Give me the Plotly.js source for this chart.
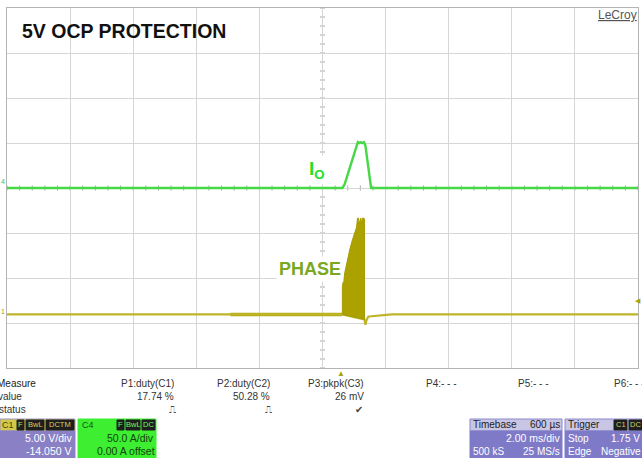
<!DOCTYPE html>
<html><head><meta charset="utf-8">
<script src="https://cdn.plot.ly/plotly-3.0.1.min.js"></script>
<style>html,body{margin:0;padding:0;background:#fff;}#chart{width:642px;height:458px;}</style>
</head><body><div id="chart"></div>
<script>
// ---------- DATA (time in ms, 2 ms/div, trigger delay 600 µs) ----------
// C4 : output current Io (50 A/div, 0 A offset)
const ioTime = [-10, 0.50, 0.63, 0.70, 0.78, 0.86, 0.94, 1.02, 1.08, 1.12, 1.17, 1.21, 1.26, 1.31, 1.36, 1.42, 1.48, 1.54, 10];
const ioAmps = [0, 0, 0, 4, 13, 23, 33, 42, 49, 51, 50, 51, 50, 51, 47, 30, 12, 0, 0];
// C1 : PHASE node (5 V/div, -14.050 V offset) – baseline trace
const phaseTime = [-10, 0.63, 1.33, 1.36, 1.40, 1.45, 1.55, 1.80, 2.20, 10];
const phaseVolts = [0, 0, -0.55, -1.15, -0.6, -0.25, -0.2, -0.1, 0, 0];
// C1 : low-level switching ripple before the burst
const rippleTime = [-2.92, 0.63];
const rippleVolts = [0, 0];
// C1 : switching burst envelope (upper edge then lower edge)
const burstTime = [0.63, 0.63, 0.71, 0.79, 0.87, 0.95, 1.02, 1.08, 1.11, 1.14, 1.16, 1.19, 1.21, 1.24, 1.26, 1.29, 1.31, 1.33, 1.33, 0.63];
const burstVolts = [0, 3.1, 4.7, 6.1, 7.3, 8.3, 9.1, 9.7, 10.7, 10.7, 10.0, 10.7, 10.7, 10.0, 10.7, 10.7, 10.7, 10.6, -0.55, 0];
// measurement table
const measureNames = ["P1:duty(C1)", "P2:duty(C2)", "P3:pkpk(C3)", "P4:- - -", "P5:- - -", "P6:- - -"];
const measureValues = ["17.74 %", "50.28 %", "26 mV", "", "", ""];
const measureStatus = ["\u238D", "\u238D", "\u2714", "", "", ""];
// channel / timebase readouts
const c1Scale = "5.00 V/div", c1Offset = "-14.050 V";
const c4Scale = "50.0 A/div", c4Offset = "0.00 A offset";
const tbDelay = "600 \u00B5s", tbScale = "2.00 ms/div", tbSamples = "500 kS", tbRate = "25 MS/s";
const trigMode = "Stop", trigLevel = "1.75 V", trigType = "Edge", trigSlope = "Negative";

// ---------- GEOMETRY ----------
const W = 642, H = 458, L = 7, R = 4, T = 8, B = 90;
const PW = W - L - R, PH = H - T - B;
const px = x => (x - L) / PW;
const py = y => (H - B - y) / PH;
const FONT = "Liberation Sans, Arial, sans-serif";
const OLIVE = "#aba200", GREEN = "#46d846";

const traces = [
  {x: rippleTime, y: rippleVolts, yaxis: "y2", mode: "lines", line: {color: "#b3aa10", width: 3.6}, hoverinfo: "skip"},
  {x: phaseTime, y: phaseVolts, yaxis: "y2", mode: "lines", line: {color: "#bdb42a", width: 2.2}, hoverinfo: "skip"},
  {x: burstTime, y: burstVolts, yaxis: "y2", mode: "lines", fill: "toself", fillcolor: OLIVE, line: {color: "#a59c00", width: 1}, hoverinfo: "skip"},
  {x: ioTime, y: ioAmps, yaxis: "y", mode: "lines", line: {color: GREEN, width: 2.4}, hoverinfo: "skip"}
];

const shapes = [];
// minor ticks along the centre cross
for (let k = -20; k <= 20; k++) {
  shapes.push({type: "line", xref: "x", yref: "y", xsizemode: "pixel", xanchor: 0, x0: -2.5, x1: 2.5, y0: k * 10, y1: k * 10, line: {color: "#a8a8a8", width: 1}, layer: "below"});
}
for (let k = -25; k <= 25; k++) {
  shapes.push({type: "line", xref: "x", yref: "y", ysizemode: "pixel", yanchor: 0, y0: -2.5, y1: 2.5, x0: k * 0.4, x1: k * 0.4, line: {color: "#a8a8a8", width: 1}, layer: "below"});
}
function box(x0, y0, x1, y1, color, line) {
  shapes.push({type: "rect", xref: "paper", yref: "paper", x0: px(x0), x1: px(x1), y0: py(y1), y1: py(y0), fillcolor: color, line: {color: line || color, width: 1}, layer: "above"});
}
const annotations = [];
function txt(x, y, text, o) {
  o = o || {};
  annotations.push({xref: "paper", yref: "paper", x: px(x), y: py(y), text: text, showarrow: false,
    xanchor: o.xa || "left", yanchor: o.ya || "middle",
    font: {family: o.family || FONT, size: o.size || 10, color: o.color || "#333"},
    bgcolor: o.bg || "rgba(0,0,0,0)", borderpad: o.pad || 0});
}
// labels on the plot
txt(21, 31, "<b>5V OCP PROTECTION</b>", {size: 19.5, color: "#111"});
txt(638, 15, "<u>LeCroy</u>", {xa: "right", size: 12, color: "#555"});
txt(306, 170, "<b>I<sub>O</sub></b>", {size: 19, color: "#22e022", bg: "#fff", pad: 2});
txt(276, 269, "<b>PHASE</b>", {size: 18, color: "#7aa81e", bg: "#fff", pad: 2});
txt(0, 182, "4", {size: 7, color: "#44c844"});
txt(0, 311, "1", {size: 7, color: "#a8a000"});
txt(341, 373, "\u25B2", {xa: "center", size: 8, color: OLIVE});
txt(642, 300, "\u25C0", {xa: "right", size: 7, color: OLIVE});

// measurement table
txt(-4, 383, "Measure", {color: "#222"});
txt(-3, 396, "value");
txt(-2, 409, "status");
const colRight = [175, 271, 365, 458, 550, 646];
const statusX = [172, 268, 359];
for (let i = 0; i < measureNames.length; i++) {
  txt(colRight[i], 383, measureNames[i], {xa: "right"});
  if (measureValues[i]) txt(colRight[i], 396, measureValues[i], {xa: "right"});
  if (measureStatus[i]) txt(statusX[i], 409, measureStatus[i], {xa: "center", size: 10, color: "#444", family: "DejaVu Sans"});
}
// C1 box
box(0, 419, 75, 431, "#d2c94a", "#9c96c8");
box(0, 431, 75, 458, "#8a80c6", "#8a80c6");
txt(1, 425, "C1", {size: 9, color: "#4a4400"});
function badge(x0, x1, y, t, tc) {
  box(x0, y - 5, x1, y + 5, "#1e1e1e", "#1e1e1e");
  txt((x0 + x1) / 2, y, t, {xa: "center", size: 7.5, color: tc});
}
badge(17, 24, 425, "F", "#d8d060");
badge(26, 44, 425, "BwL", "#d8d060");
badge(46, 74, 425, "DCTM", "#d8d060");
txt(73, 438, c1Scale, {xa: "right", size: 10.5, color: "#fff"});
txt(73, 451, c1Offset, {xa: "right", size: 10.5, color: "#fff"});
// C4 box
box(78, 419, 156, 458, "#3def30", "#3def30");
txt(81, 425, "C4", {size: 9, color: "#145014"});
badge(117, 124, 425, "F", "#6f6");
badge(126, 140, 425, "BwL", "#6f6");
badge(142, 155, 425, "DC", "#6f6");
txt(155, 438, c4Scale, {xa: "right", size: 10.5, color: "#114411"});
txt(156, 451, c4Offset, {xa: "right", size: 10.5, color: "#114411"});
// Timebase box
box(470, 419, 562, 431, "#c8c6e4", "#8c88cc");
box(470, 431, 562, 458, "#7e7ac8", "#7e7ac8");
txt(472, 425, "Timebase", {size: 10, color: "#222"});
txt(561, 425, tbDelay, {xa: "right", size: 10, color: "#222"});
txt(561, 438, tbScale, {xa: "right", size: 10.5, color: "#fff"});
txt(472, 451, tbSamples, {size: 10, color: "#fff"});
txt(561, 451, tbRate, {xa: "right", size: 10, color: "#fff"});
// Trigger box
box(565, 419, 642, 431, "#c8c6e4", "#8c88cc");
box(565, 431, 642, 458, "#7e7ac8", "#7e7ac8");
txt(567, 425, "Trigger", {size: 10, color: "#222"});
badge(614, 627, 425, "C1", "#d8d060");
badge(629, 642, 425, "DC", "#d8d060");
txt(567, 438, trigMode, {size: 10, color: "#fff"});
txt(641, 438, trigLevel, {xa: "right", size: 10, color: "#fff"});
txt(567, 451, trigType, {size: 10, color: "#fff"});
txt(642, 451, trigSlope, {xa: "right", size: 10, color: "#fff"});

const axisCommon = {showticklabels: false, ticks: "", zeroline: false, fixedrange: true,
  showgrid: true, gridcolor: "#d6d6d6", gridwidth: 1, showline: true, linecolor: "#b4b4b4", linewidth: 1, mirror: true};
const layout = {
  width: W, height: H, margin: {l: L, r: R, t: T, b: B},
  paper_bgcolor: "#fff", plot_bgcolor: "#fff", showlegend: false,
  xaxis: Object.assign({}, axisCommon, {range: [-10, 10], tick0: 0, dtick: 2}),
  yaxis: Object.assign({}, axisCommon, {range: [-200, 200], tick0: 0, dtick: 50}),
  yaxis2: {overlaying: "y", range: [14.05 - 20, 14.05 + 20], showgrid: false, zeroline: false, showticklabels: false, ticks: "", showline: false, fixedrange: true},
  shapes: shapes, annotations: annotations
};
Plotly.newPlot("chart", traces, layout, {staticPlot: true, displayModeBar: false});
</script></body></html>
